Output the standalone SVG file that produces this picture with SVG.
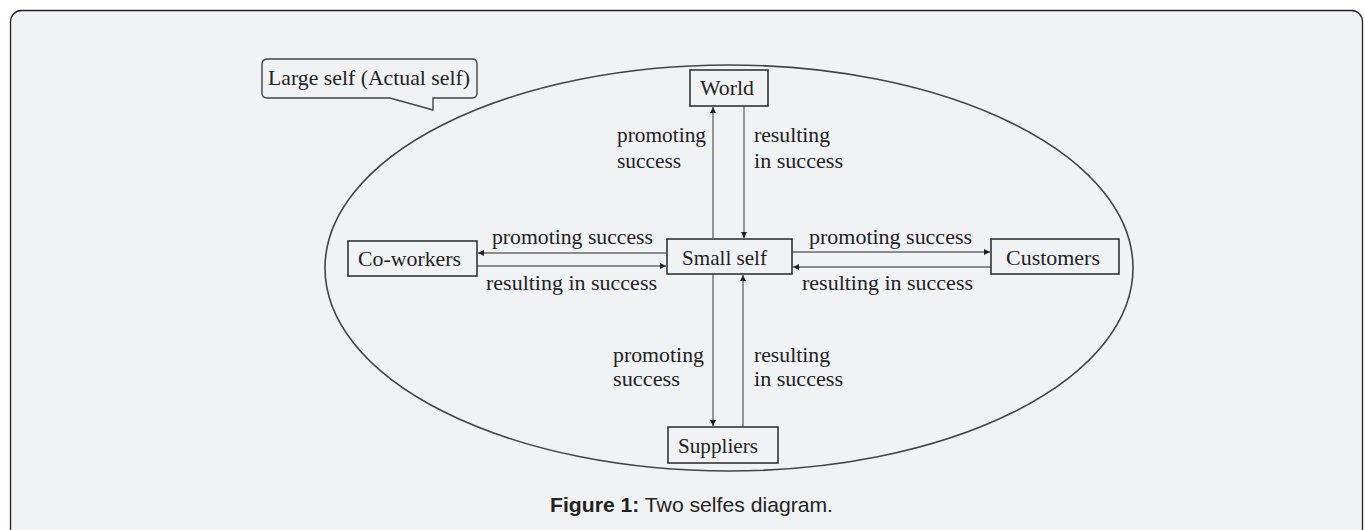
<svg xmlns="http://www.w3.org/2000/svg" width="1365" height="530" viewBox="0 0 1365 530">
<defs>
<marker id="ah" markerWidth="6" markerHeight="6" refX="6" refY="3" orient="auto" markerUnits="userSpaceOnUse">
<path d="M0,0 L6,3 L0,6 Z" fill="#222"/>
</marker>
<style>
.box{fill:none;stroke:#333;stroke-width:1.6}
.t{font-family:"Liberation Serif",serif;font-size:21px;fill:#222}
.c{stroke:#8a8a8a;stroke-width:1.8;fill:none;marker-end:url(#ah)}
</style>
</defs>
<rect x="0" y="0" width="1365" height="530" fill="#ffffff"/>
<rect x="10.5" y="10.5" width="1352" height="530" rx="11" fill="#f1f2f4" stroke="#222" stroke-width="1.3"/>
<g id="large-self">
<ellipse cx="729" cy="268" rx="404" ry="203" fill="none" stroke="#444" stroke-width="1.6"/>
<path d="M268,59 H472 Q477,59 477,64 V93 Q477,98 472,98 H433 V110 L390,98 H267 Q262,98 262,93 V64 Q262,59 268,59 Z" fill="#f1f2f4" stroke="#444" stroke-width="1.4"/>
<text class="t" x="268" y="85" textLength="202" lengthAdjust="spacingAndGlyphs">Large self (Actual self)</text>
</g>
<g id="connectors">
<line class="c" x1="713" y1="238" x2="713" y2="107"/>
<line class="c" x1="744" y1="106" x2="744" y2="238"/>
<line class="c" x1="667" y1="253" x2="478" y2="253"/>
<line class="c" x1="477" y1="266" x2="666" y2="266"/>
<line class="c" x1="792" y1="252" x2="990" y2="252"/>
<line class="c" x1="991" y1="267" x2="793" y2="267"/>
<line class="c" x1="713" y1="274" x2="713" y2="426"/>
<line class="c" x1="743" y1="427" x2="743" y2="275"/>
<text class="t" x="617" y="142" textLength="89" lengthAdjust="spacingAndGlyphs">promoting</text>
<text class="t" x="617" y="168" textLength="64" lengthAdjust="spacingAndGlyphs">success</text>
<text class="t" x="754" y="142" textLength="76" lengthAdjust="spacingAndGlyphs">resulting</text>
<text class="t" x="754" y="168" textLength="89" lengthAdjust="spacingAndGlyphs">in success</text>
<text class="t" x="492" y="244" textLength="161" lengthAdjust="spacingAndGlyphs">promoting success</text>
<text class="t" x="486" y="290" textLength="171" lengthAdjust="spacingAndGlyphs">resulting in success</text>
<text class="t" x="809" y="244" textLength="163" lengthAdjust="spacingAndGlyphs">promoting success</text>
<text class="t" x="802" y="290" textLength="171" lengthAdjust="spacingAndGlyphs">resulting in success</text>
<text class="t" x="613" y="362" textLength="91" lengthAdjust="spacingAndGlyphs">promoting</text>
<text class="t" x="613" y="386" textLength="67" lengthAdjust="spacingAndGlyphs">success</text>
<text class="t" x="754" y="362" textLength="76" lengthAdjust="spacingAndGlyphs">resulting</text>
<text class="t" x="754" y="386" textLength="89" lengthAdjust="spacingAndGlyphs">in success</text>
</g>
<g id="world">
<rect class="box" x="690" y="70" width="78" height="36" fill="#f1f2f4"/>
<text class="t" x="700" y="95" textLength="54" lengthAdjust="spacingAndGlyphs">World</text>
</g>
<g id="small-self">
<rect class="box" x="667" y="239" width="125" height="35"/>
<text class="t" x="682" y="265" textLength="85" lengthAdjust="spacingAndGlyphs">Small self</text>
</g>
<g id="co-workers">
<rect class="box" x="348" y="241" width="129" height="35"/>
<text class="t" x="358" y="266" textLength="103" lengthAdjust="spacingAndGlyphs">Co-workers</text>
</g>
<g id="customers">
<rect class="box" x="991" y="239" width="128" height="35"/>
<text class="t" x="1006" y="265" textLength="94" lengthAdjust="spacingAndGlyphs">Customers</text>
</g>
<g id="suppliers">
<rect class="box" x="668" y="427" width="110" height="36" fill="#f1f2f4"/>
<text class="t" x="678" y="453" textLength="80" lengthAdjust="spacingAndGlyphs">Suppliers</text>
</g>
<text x="550" y="512" font-family="Liberation Sans, Arial, sans-serif" font-size="21" fill="#222" textLength="283" lengthAdjust="spacingAndGlyphs"><tspan font-weight="bold">Figure 1:</tspan> Two selfes diagram.</text>
</svg>
